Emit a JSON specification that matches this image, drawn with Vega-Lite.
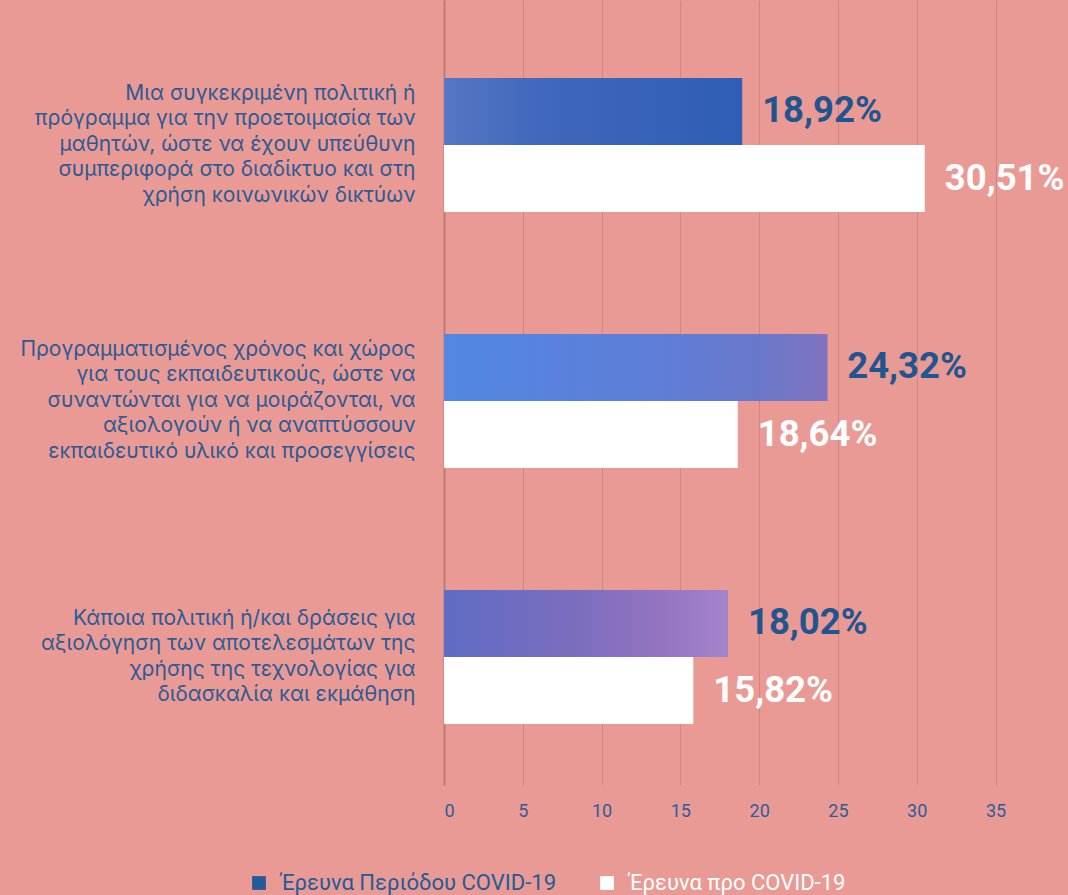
{
  "$schema": "https://vega.github.io/schema/vega-lite/v6.json",
  "autosize": {"type": "none"},
  "width": 624,
  "height": 785,
  "padding": {"left": 444, "top": 0, "right": 0, "bottom": 110},
  "background": "#EA9A94",
  "config": {
    "view": {"stroke": null},
    "font": "Roboto"
  },
  "data": {
    "values": [
      {"cat": "Μια συγκεκριμένη πολιτική ή|πρόγραμμα για την προετοιμασία των|μαθητών, ώστε να έχουν υπεύθυνη|συμπεριφορά στο διαδίκτυο και στη|χρήση κοινωνικών δικτύων", "k": 1, "series": "Έρευνα Περιόδου COVID-19", "value": 18.92, "label": "18,92%"},
      {"cat": "Μια συγκεκριμένη πολιτική ή|πρόγραμμα για την προετοιμασία των|μαθητών, ώστε να έχουν υπεύθυνη|συμπεριφορά στο διαδίκτυο και στη|χρήση κοινωνικών δικτύων", "k": 1, "series": "Έρευνα προ COVID-19", "value": 30.51, "label": "30,51%"},
      {"cat": "Προγραμματισμένος χρόνος και χώρος|για τους εκπαιδευτικούς, ώστε να|συναντώνται για να μοιράζονται, να|αξιολογούν ή να αναπτύσσουν|εκπαιδευτικό υλικό και προσεγγίσεις", "k": 2, "series": "Έρευνα Περιόδου COVID-19", "value": 24.32, "label": "24,32%"},
      {"cat": "Προγραμματισμένος χρόνος και χώρος|για τους εκπαιδευτικούς, ώστε να|συναντώνται για να μοιράζονται, να|αξιολογούν ή να αναπτύσσουν|εκπαιδευτικό υλικό και προσεγγίσεις", "k": 2, "series": "Έρευνα προ COVID-19", "value": 18.64, "label": "18,64%"},
      {"cat": "Κάποια πολιτική ή/και δράσεις για|αξιολόγηση των αποτελεσμάτων της|χρήσης της τεχνολογίας για|διδασκαλία και εκμάθηση", "k": 3, "series": "Έρευνα Περιόδου COVID-19", "value": 18.02, "label": "18,02%"},
      {"cat": "Κάποια πολιτική ή/και δράσεις για|αξιολόγηση των αποτελεσμάτων της|χρήσης της τεχνολογίας για|διδασκαλία και εκμάθηση", "k": 3, "series": "Έρευνα προ COVID-19", "value": 15.82, "label": "15,82%"}
    ]
  },
  "encoding": {
    "y": {
      "field": "cat",
      "type": "nominal",
      "sort": {"field": "k", "op": "min"},
      "scale": {"paddingInner": 0, "paddingOuter": 0.0332, "align": 1},
      "axis": {
        "title": null,
        "labelExpr": "split(datum.value, '|')",
        "labelFont": "Inter",
        "labelFontSize": 21,
        "labelLineHeight": 25.5,
        "labelColor": "#2C5A96",
        "labelPadding": 29,
        "labelOffset": {
          "condition": {"test": "indexof(datum.value, 'Κάποια') === 0", "value": -38},
          "value": -51
        },
        "ticks": false,
        "domain": true,
        "domainColor": "#C07A75",
        "domainWidth": 2,
        "labelLimit": 500
      }
    },
    "yOffset": {
      "field": "series",
      "type": "nominal",
      "sort": ["Έρευνα Περιόδου COVID-19", "Έρευνα προ COVID-19"],
      "scale": {"paddingInner": 0, "paddingOuter": 0.91}
    },
    "x": {
      "field": "value",
      "type": "quantitative",
      "scale": {"domain": [0, 39.6], "nice": false, "zero": true},
      "axis": {
        "title": null,
        "values": [0, 5, 10, 15, 20, 25, 30, 35],
        "grid": true,
        "gridColor": "#CF8580",
        "gridWidth": 1,
        "domain": false,
        "ticks": false,
        "labelFont": "Roboto",
        "labelFontSize": 18,
        "labelColor": "#2F5C9A",
        "labelPadding": 17
      }
    }
  },
  "layer": [
    {
      "mark": {"type": "bar", "cornerRadius": 0},
      "encoding": {
        "color": {
          "field": "series",
          "type": "nominal",
          "scale": {"domain": ["Έρευνα Περιόδου COVID-19", "Έρευνα προ COVID-19"], "range": ["#245A9A", "#FFFFFF"]},
          "legend": {
            "title": null,
            "orient": "none",
            "direction": "horizontal",
            "legendX": -196,
            "legendY": 872,
            "symbolType": "square",
            "symbolSize": 190,
            "symbolStrokeWidth": 0,
            "labelFont": "Roboto",
            "labelFontSize": 22,
            "labelOffset": 11,
            "columnPadding": 40,
            "labelLimit": 400,
            "encode": {
              "labels": {
                "update": {
                  "fill": {"signal": "datum.value === 'Έρευνα Περιόδου COVID-19' ? '#245A9A' : '#FFFFFF'"}
                }
              }
            }
          }
        }
      }
    },
    {
      "transform": [{"filter": "datum.series === 'Έρευνα Περιόδου COVID-19'"}],
      "mark": {"type": "bar"},
      "encoding": {
        "fill": {
          "condition": [
            {"test": "datum.k === 1", "value": {"gradient": "linear", "x1": 0, "y1": 0, "x2": 1, "y2": 0, "stops": [{"offset": 0, "color": "#5676C4"}, {"offset": 0.35, "color": "#3F67BC"}, {"offset": 1, "color": "#2F5DB5"}]}},
            {"test": "datum.k === 2", "value": {"gradient": "linear", "x1": 0, "y1": 0, "x2": 1, "y2": 0, "stops": [{"offset": 0, "color": "#5287E2"}, {"offset": 0.55, "color": "#5E7ED8"}, {"offset": 0.8, "color": "#6878CC"}, {"offset": 1, "color": "#8073C0"}]}}
          ],
          "value": {"gradient": "linear", "x1": 0, "y1": 0, "x2": 1, "y2": 0, "stops": [{"offset": 0, "color": "#5F6CC4"}, {"offset": 0.45, "color": "#7B6DBE"}, {"offset": 0.8, "color": "#9675C2"}, {"offset": 1, "color": "#A585CC"}]}
        }
      }
    },
    {
      "mark": {"type": "text", "align": "left", "baseline": "middle", "dx": 20, "font": "Roboto", "fontSize": 36.5, "fontWeight": "bold"},
      "encoding": {
        "text": {"field": "label", "type": "nominal"},
        "color": {
          "condition": {"test": "datum.series === 'Έρευνα Περιόδου COVID-19'", "value": "#1F5590"},
          "value": "#FFFFFF"
        }
      }
    }
  ]
}
